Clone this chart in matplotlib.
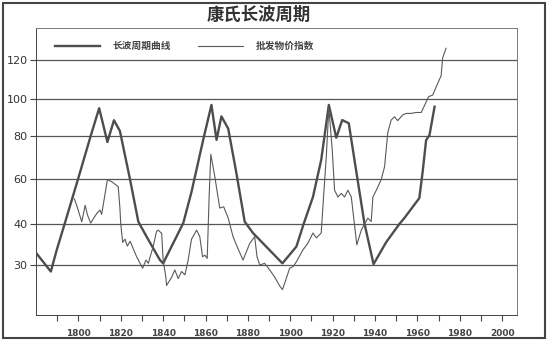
import numpy as np
import matplotlib
matplotlib.use("Agg")
from matplotlib import pyplot as plt
import matplotlib.patches as patches

plt.rcParams['font.family'] = ['Noto Sans CJK SC', 'DejaVu Sans']

# long wave curve (thick)
wave_years = [1780.1, 1787.0, 1789.8, 1793.5, 1800.0, 1805.8, 1809.8, 1813.7, 1816.8, 1819.6,
              1824.4, 1828.3, 1832.2, 1838.5, 1840.0, 1849.5, 1853.4, 1858.9, 1862.8, 1865.2,
              1867.5, 1870.7, 1874.6, 1878.5, 1882.4, 1896.3, 1902.9, 1906.3, 1910.7, 1914.6,
              1918.2, 1921.7, 1924.5, 1927.6, 1930.8, 1935.0, 1939.3, 1945.3, 1951.5, 1953.9,
              1960.9, 1962.4, 1964.1, 1965.7, 1968.1]
wave_values = [32.9, 28.4, 33.7, 40.0, 60.5, 80.0, 95.0, 77.2, 88.5, 82.7,
               59.7, 41.0, 36.9, 31.2, 30.4, 40.4, 54.3, 78.2, 96.8, 78.2,
               90.6, 84.0, 62.6, 41.0, 37.8, 30.4, 34.5, 40.0, 52.0, 68.9,
               96.8, 79.2, 88.6, 86.9, 65.7, 40.3, 30.2, 35.6, 40.0, 42.7,
               51.5, 62.7, 78.0, 80.5, 95.8]

# wholesale price index (thin)
price_years = [1798.1, 1799.2, 1800.5, 1801.6, 1803.2, 1804.2, 1805.8, 1808.7, 1810.2, 1811.0,
               1813.7, 1815.7, 1818.8, 1819.6, 1820.0, 1820.9, 1822.0, 1823.1, 1824.4, 1827.5,
               1830.3, 1831.9, 1833.0, 1835.3, 1836.9, 1837.7, 1839.3, 1840.0, 1841.3, 1841.6,
               1844.0, 1845.5, 1847.1, 1848.7, 1850.3, 1851.8, 1853.4, 1855.8, 1857.3, 1858.6,
               1859.7, 1860.8, 1861.7, 1862.5, 1864.4, 1866.7, 1868.6, 1870.7, 1873.0, 1874.9,
               1877.7, 1880.9, 1883.2, 1884.3, 1885.6, 1887.9, 1890.3, 1892.7, 1895.0, 1896.3,
               1897.4, 1899.7, 1901.3, 1902.9, 1906.0, 1908.3, 1910.7, 1912.3, 1914.6, 1915.7,
               1917.0, 1918.2, 1919.0, 1919.8, 1920.9, 1922.5, 1924.1, 1925.6, 1927.2, 1928.8,
               1931.4, 1933.5, 1936.6, 1938.2, 1939.0, 1940.6, 1942.9, 1944.5, 1946.0, 1947.6,
               1949.2, 1950.7, 1953.1, 1954.7, 1957.0, 1959.4, 1961.8, 1965.3, 1967.2, 1971.2,
               1971.9, 1973.5]
price_index = [51.2, 48.3, 44.3, 41.0, 48.3, 44.3, 40.4, 44.7, 46.2, 44.3,
               59.7, 58.8, 56.6, 47.0, 40.0, 35.5, 36.3, 34.6, 35.8, 32.0,
               29.2, 31.2, 30.4, 34.5, 38.2, 38.5, 37.7, 31.2, 27.0, 25.0,
               27.0, 28.8, 26.7, 28.4, 27.6, 31.2, 36.3, 38.5, 36.9, 32.0,
               32.4, 31.6, 52.0, 71.5, 61.0, 47.1, 47.6, 42.6, 36.9, 34.5,
               31.2, 35.3, 36.9, 32.0, 30.0, 30.4, 28.8, 27.0, 24.9, 24.0,
               25.6, 29.2, 29.6, 30.8, 33.7, 35.3, 37.8, 36.6, 37.8, 52.0,
               70.4, 95.0, 84.0, 73.5, 55.0, 52.0, 53.6, 52.0, 55.0, 52.0,
               34.9, 38.5, 42.6, 41.1, 52.0, 55.0, 59.7, 65.7, 81.7, 88.6,
               90.4, 88.3, 91.4, 92.2, 92.2, 92.7, 92.7, 101.2, 102.0, 112.0,
               121.0, 126.0]

y_ticks = [30, 40, 60, 80, 100, 120]
x_labels = list(range(1800, 2001, 20))
legend_labels = ['长波周期曲线', '批发物价指数']
title = '康氏长波周期'

# uneven vertical axis of the original
scale_vals = [0, 30, 40, 60, 80, 100, 120, 200]
scale_pos = [-48, 75, 116, 161, 204, 241, 280, 436]

def fwd(v):
    return np.interp(v, scale_vals, scale_pos)

def inv(p):
    return np.interp(p, scale_pos, scale_vals)

fig = plt.figure(figsize=(5.48, 3.40), dpi=100)
ax = fig.add_axes([36/548, 1-315/340, (517-36)/548, (315-28)/340])
ax.set_yscale('function', functions=(fwd, inv))

ax.plot(wave_years, wave_values, color='#4d4d4d', lw=1.7, label=legend_labels[0], zorder=3)
ax.plot(price_years, price_index, color='#5a5a5a', lw=0.8, label=legend_labels[1], zorder=3)

ax.set_xlim(1780, 2007)
ax.set_ylim(17.8, 136.4)
ax.set_yticks(y_ticks)
ax.set_yticklabels([str(t) for t in y_ticks], fontsize=8, color='#333333',
                   family='DejaVu Sans')
ax.set_xticks(x_labels)
ax.set_xticklabels([str(t) for t in x_labels], fontsize=6.5, fontweight='bold',
                   color='#444444', family='DejaVu Sans')
ax.set_xticks(list(range(1790, 2001, 10)), minor=True)
ax.tick_params(axis='both', which='both', direction='out', length=4, color='#444444', width=0.8)
ax.tick_params(axis='x', pad=6)
ax.tick_params(axis='y', pad=2)

for t in y_ticks:
    ax.axhline(t, color='#555555', lw=0.9, zorder=1)

for s in ax.spines.values():
    s.set_color('#777777')
    s.set_linewidth(0.7)
ax.spines['left'].set_color('#444444')
ax.spines['bottom'].set_color('#444444')

leg = ax.legend(loc='center left', bbox_to_anchor=(0.04, 0.937), ncol=2, frameon=False,
                prop={'size': 7, 'weight': 'bold'}, handlelength=4.6, handletextpad=1.3,
                columnspacing=2.8, borderpad=0, borderaxespad=0)
for txt in leg.get_texts():
    txt.set_color('#444444')

fig.text(259/548, 1-15/340, title, ha='center', va='center', fontsize=12.5,
         fontweight='bold', color='#333333')

fig.patches.append(patches.Rectangle((3/548, 2/340), 542/548, 335/340, transform=fig.transFigure,
                                     fill=False, edgecolor='#444444', lw=1.5))

plt.savefig("out.png", dpi=100)
